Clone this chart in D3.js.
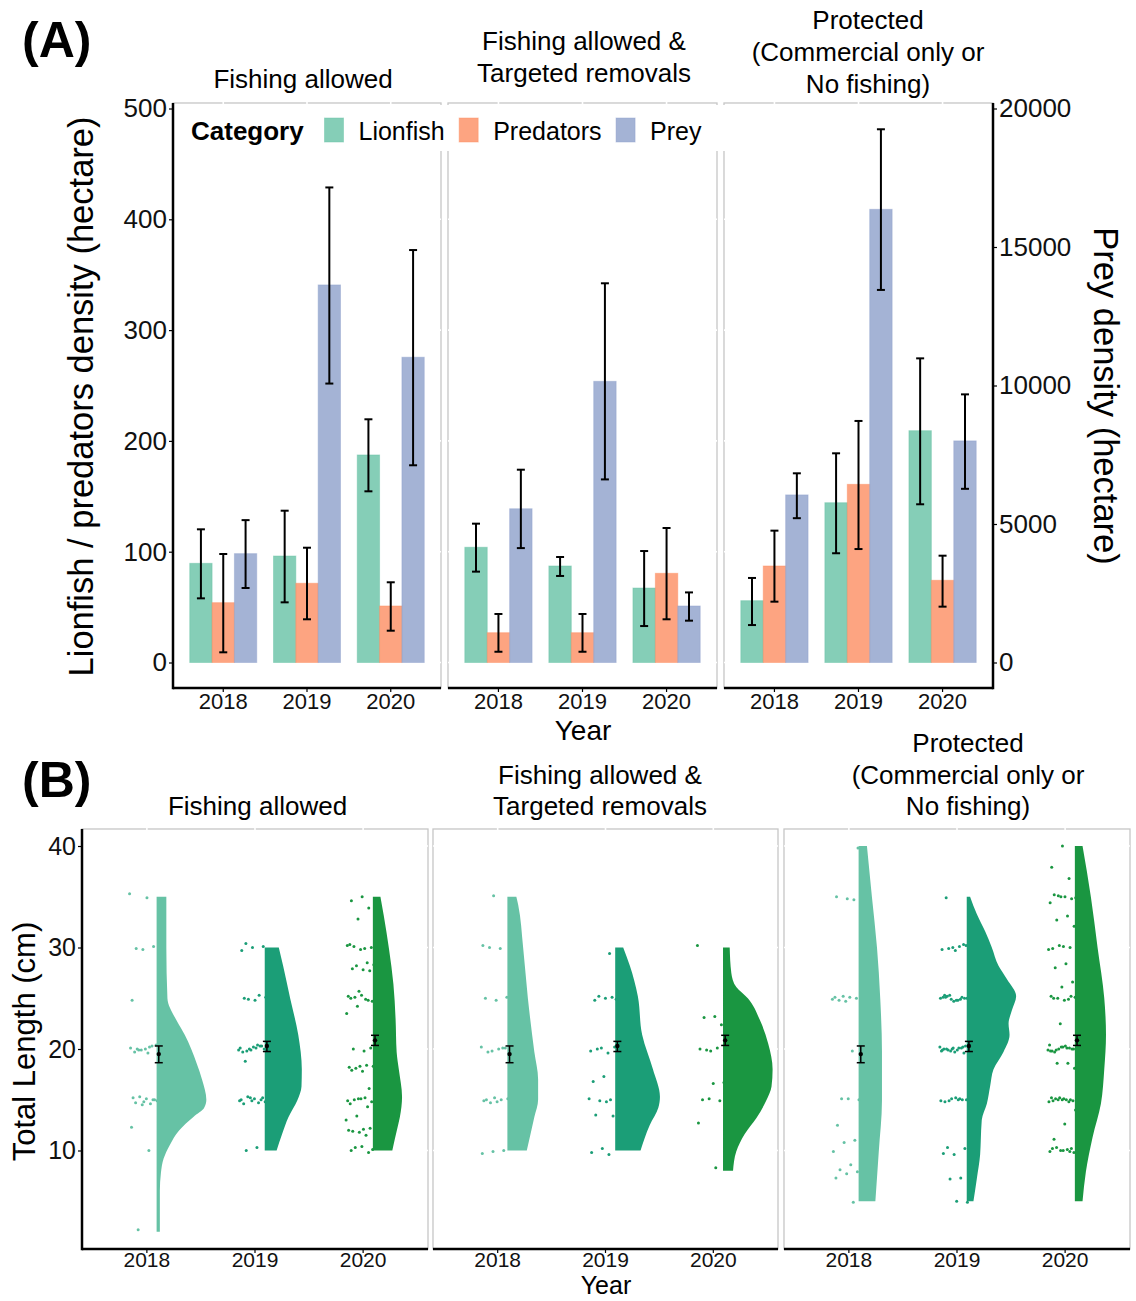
<!DOCTYPE html>
<html>
<head>
<meta charset="utf-8">
<script src="https://cdn.jsdelivr.net/npm/d3@7"></script>
<style>
  html, body { margin: 0; padding: 0; background: #fff; }
  svg { display: block; font-family: "Liberation Sans", Arial, Helvetica, sans-serif; }
</style>
</head>
<body>
<svg id="fig" width="1136" height="1301"></svg>
<script>
// ---------------- data ----------------
const years = ["2018", "2019", "2020"];
const zoneLabels = [
  ["Fishing allowed"],
  ["Fishing allowed &", "Targeted removals"],
  ["Protected", "(Commercial only or", "No fishing)"]
];
const categories = ["Lionfish", "Predators", "Prey"];
const categoryColors = ["#66c2a5", "#fc8d62", "#8da0cb"];

// (A) densities per hectare, indexed [zone][year]
const lionfishMean  = [[89.5, 96.1, 187.3], [104.0, 87.1, 67.2], [55.8, 144.2, 209.2]];
const lionfishLower = [[57.9, 54.3, 154.5], [82.0, 78.1, 32.9], [33.8, 98.6, 142.8]];
const lionfishUpper = [[120.2, 137.0, 219.5], [125.3, 95.2, 100.6], [76.3, 188.8, 274.5]];

const predatorsMean  = [[54.0, 71.5, 51.0], [26.9, 26.9, 80.5], [87.1, 160.8, 74.2]];
const predatorsLower = [[9.2, 39.0, 28.7], [9.7, 9.7, 39.0], [54.9, 102.4, 50.4]];
const predatorsUpper = [[97.9, 103.6, 72.4], [43.8, 43.8, 121.4], [119.0, 218.0, 96.4]];

// prey density is read on the secondary axis
const preyMean  = [[3930, 13630, 11020], [5550, 10150, 2040], [6050, 16360, 8000]];
const preyLower = [[2690, 10070, 7120], [4130, 6610, 1510], [5210, 13450, 6270]];
const preyUpper = [[5140, 17150, 14890], [6960, 13690, 2530], [6830, 19250, 9680]];

const leftTicks = [0, 100, 200, 300, 400, 500];
const rightTicks = [0, 5000, 10000, 15000, 20000];

// (B) lionfish total length (cm)
const yearColors = ["#66c2a5", "#1b9e77", "#1a9641"];
const lengthMean  = [19.5, 20.3, 20.85];
const lengthLower = [18.65, 19.75, 20.35];
const lengthUpper = [20.3, 20.75, 21.35];
const lengthTicks = [10, 20, 30, 40];

// scaled kernel density of length, [length, density], indexed [zone][year]
const lengthDensity = [
  [
    [[2, 3], [6, 3], [7.8, 4], [9.2, 6.5], [10.5, 12], [12, 21], [13.3, 34], [14.2, 44], [15, 46], [17, 42], [18.6, 37], [20, 32], [21.4, 26], [22.7, 19], [25, 10], [30, 9], [35, 9]],
    [[10, 11], [11.6, 16], [13.3, 22], [14.9, 30], [16.3, 34], [18, 34.3], [21.4, 31], [25, 23.5], [28.2, 17], [30, 13]],
    [[10, 18], [10.5, 19], [11.9, 22], [13.3, 25], [15.3, 27], [18, 24], [19.7, 22], [23, 21], [26.4, 19], [29.8, 15], [33.2, 10], [35, 7]]
  ],
  [
    [[10, 18], [13.3, 25], [15, 28.5], [17, 28.5], [19.7, 25], [25, 19], [30, 14.6], [34.2, 10], [35, 8.3]],
    [[10, 23.5], [12.5, 32], [14.2, 40], [15.3, 41.5], [18, 35], [21.4, 25], [25.2, 21], [28.2, 13.6], [30, 7.4]],
    [[8, 9.3], [9.9, 12.3], [11.6, 20], [13.2, 31], [14.9, 40], [16.3, 45], [18, 46], [20.5, 42], [22.9, 34], [25, 23], [26.1, 12.3], [27.5, 7.7], [30, 6.2]]
  ],
  [
    [[5, 15.5], [9.8, 18.6], [14.9, 21.6], [19.7, 21.6], [25, 20], [30, 17], [35, 12.3], [40, 7.7]],
    [[5, 6.2], [7.2, 9.3], [9.6, 12.4], [11, 13], [13, 13.9], [14.6, 18.6], [16.3, 21.6], [18, 24.8], [19.7, 34], [21.4, 39.6], [22.5, 38.7], [23.8, 41.7], [25.2, 45.7], [26.9, 37.1], [28.2, 29.4], [30, 23.2], [31.6, 17], [33.3, 9.3], [35, 3.1]],
    [[5, 7.1], [7.9, 10.2], [11.3, 16.4], [14.6, 24.1], [18, 27.2], [21.4, 28.8], [25, 27.2], [30, 21], [35, 14.8], [40, 7.1]]
  ]
];

// individual fish lengths (cm), indexed [zone][year]
const fishLengths = [
  [
    [35.3, 34.9, 29.9, 30.1, 29.8, 24.8, 20.2, 19.9, 20.4, 20.0, 19.7, 20.3, 19.9, 20.1, 19.6, 20.0, 15.0, 14.8, 15.2, 14.6, 15.3, 14.9, 15.1, 14.7, 15.0, 14.5, 12.3, 10.0, 2.2],
    [30.4, 30.1, 30.0, 29.7, 25.3, 24.9, 25.1, 24.8, 25.0, 20.3, 19.9, 20.1, 20.4, 19.8, 20.0, 20.2, 19.7, 20.3, 20.0, 19.9, 20.1, 18.8, 15.2, 14.9, 15.0, 14.7, 15.3, 14.8, 15.1, 14.6, 15.0, 15.2, 14.9, 10.3, 10.0],
    [35.0, 34.6, 33.9, 32.8, 30.2, 29.9, 30.1, 30.0, 29.8, 30.3, 28.5, 28.2, 28.3, 27.8, 27.9, 27.7, 25.7, 25.2, 24.9, 25.1, 24.7, 25.3, 25.0, 24.8, 24.2, 23.5, 19.8, 20.0, 20.1, 18.3, 18.2, 18.4, 18.1, 18.3, 17.8, 17.9, 16.1, 15.1, 14.9, 15.2, 15.0, 14.8, 15.1, 14.6, 14.3, 13.4, 13.0, 12.1, 11.9, 12.2, 11.8, 12.0, 11.5, 10.3, 10.1, 10.4, 10.0, 9.8]
  ],
  [
    [35.1, 30.2, 29.9, 30.0, 25.1, 24.8, 25.0, 20.1, 19.8, 20.2, 20.0, 19.7, 20.1, 15.2, 14.9, 15.0, 14.7, 15.1, 14.8, 15.0, 10.0, 9.9, 9.7],
    [29.4, 25.2, 24.9, 25.0, 24.8, 25.1, 20.1, 19.8, 19.6, 20.0, 20.2, 17.3, 16.8, 15.0, 14.9, 15.1, 14.8, 13.5, 13.4, 10.2, 9.8, 9.6],
    [30.2, 23.2, 23.1, 22.4, 19.8, 20.0, 20.1, 19.9, 16.7, 16.6, 15.0, 14.9, 15.1, 12.7, 8.3]
  ],
  [
    [39.8, 34.8, 35.0, 34.7, 25.2, 24.9, 25.1, 24.8, 25.0, 24.7, 25.1, 19.8, 15.1, 15.0, 15.1, 12.5, 11.0, 10.8, 9.9, 8.6, 8.1, 7.9, 7.7, 7.3, 4.9],
    [34.9, 30.3, 30.0, 29.8, 30.1, 29.9, 30.2, 29.7, 25.3, 25.1, 24.9, 25.0, 24.8, 25.2, 25.0, 24.7, 25.1, 24.9, 25.3, 25.0, 24.8, 25.1, 20.2, 20.0, 19.8, 20.1, 19.9, 20.3, 19.7, 20.0, 20.1, 19.8, 20.2, 19.9, 20.0, 19.6, 20.1, 19.9, 15.1, 14.9, 15.0, 15.2, 14.8, 15.0, 15.1, 14.9, 15.0, 10.3, 10.2, 9.6, 9.7, 7.3, 7.2, 4.9, 5.0],
    [40.0, 37.9, 36.8, 35.1, 34.9, 35.0, 35.2, 34.8, 35.0, 34.4, 33.1, 32.7, 32.1, 30.1, 29.9, 30.0, 30.2, 29.8, 28.4, 28.0, 26.6, 26.1, 25.2, 24.9, 25.0, 25.1, 24.8, 25.0, 25.2, 22.5, 20.4, 20.1, 19.9, 20.0, 20.2, 19.8, 20.1, 20.0, 19.9, 20.3, 19.7, 20.0, 20.2, 19.8, 18.6, 18.6, 18.1, 15.1, 14.9, 15.0, 15.2, 14.8, 15.0, 15.1, 14.9, 15.0, 15.2, 14.8, 15.0, 14.0, 12.6, 11.1, 10.2, 10.0, 9.9, 10.1, 10.3, 9.8, 10.0, 10.2, 9.9]
  ]
];

// ---------------- drawing ----------------
const svg = d3.select("#fig");
const BORDER = "#c6c6c6";
const TICK_TEXT = "#111";

function label(g, x, y, s, size, anchor = "middle", weight = "normal") {
  return g.append("text")
    .attr("x", x).attr("y", y)
    .attr("font-size", size)
    .attr("font-weight", weight)
    .attr("text-anchor", anchor)
    .attr("fill", "#000")
    .text(s);
}

function styleAxis(g, size) {
  g.select(".domain").remove();
  g.selectAll(".tick line").attr("stroke", "#000").attr("stroke-width", 1.2);
  g.selectAll(".tick text").attr("font-size", size).attr("fill", TICK_TEXT)
    .attr("font-family", '"Liberation Sans", Arial, sans-serif');
}

// ===== Panel (A): densities =====
const gA = svg.append("g");
const aTop = 103, aBottom = 688;
const aPanels = [[173, 441], [448, 717], [724, 993]];
const yL = d3.scaleLinear().domain([0, 500]).range([662.5, 108.5]);
const yR = d3.scaleLinear().domain([0, 20000]).range([662.5, 108.5]);

const seriesMean  = [lionfishMean, predatorsMean, preyMean];
const seriesLower = [lionfishLower, predatorsLower, preyLower];
const seriesUpper = [lionfishUpper, predatorsUpper, preyUpper];
const yFor = c => (c === 2 ? yR : yL);

aPanels.forEach((range, z) => {
  const x = d3.scaleBand().domain(years).range(range).paddingInner(0.2).paddingOuter(0.2);
  const xc = d3.scaleBand().domain(categories).range([0, x.bandwidth()]);
  const pg = gA.append("g");

  pg.append("rect")
    .attr("x", range[0]).attr("y", aTop)
    .attr("width", range[1] - range[0]).attr("height", aBottom - aTop)
    .attr("fill", "#fff").attr("stroke", BORDER).attr("stroke-width", 1.3);

  // white grid lines
  pg.selectAll("line.gy").data(leftTicks).join("line")
    .attr("x1", range[0]).attr("x2", range[1])
    .attr("y1", d => yL(d)).attr("y2", d => yL(d))
    .attr("stroke", "#fff").attr("stroke-width", 1.6);
  pg.selectAll("line.gx").data(years).join("line")
    .attr("x1", d => x(d) + x.bandwidth() / 2).attr("x2", d => x(d) + x.bandwidth() / 2)
    .attr("y1", aTop - 1).attr("y2", aBottom)
    .attr("stroke", "#fff").attr("stroke-width", 1.6);

  // bars
  const bars = [];
  years.forEach((yr, i) => categories.forEach((cat, c) => {
    bars.push({ yr, cat, c, mean: seriesMean[c][z][i], lo: seriesLower[c][z][i], hi: seriesUpper[c][z][i] });
  }));
  pg.selectAll("rect.bar").data(bars).join("rect")
    .attr("class", "bar")
    .attr("x", d => x(d.yr) + xc(d.cat))
    .attr("width", xc.bandwidth())
    .attr("y", d => yFor(d.c)(d.mean))
    .attr("height", d => yFor(d.c)(0) - yFor(d.c)(d.mean))
    .attr("fill", d => categoryColors[d.c]).attr("fill-opacity", 0.8)
    .attr("stroke", d => categoryColors[d.c]).attr("stroke-opacity", 0.45).attr("stroke-width", 1);

  // error bars
  const eb = pg.selectAll("g.eb").data(bars).join("g")
    .attr("transform", d => `translate(${x(d.yr) + xc(d.cat) + xc.bandwidth() / 2},0)`);
  eb.append("line").attr("x1", 0).attr("x2", 0)
    .attr("y1", d => yFor(d.c)(d.lo)).attr("y2", d => yFor(d.c)(d.hi))
    .attr("stroke", "#000").attr("stroke-width", 2);
  eb.append("line").attr("x1", -4).attr("x2", 4)
    .attr("y1", d => yFor(d.c)(d.lo)).attr("y2", d => yFor(d.c)(d.lo))
    .attr("stroke", "#000").attr("stroke-width", 2);
  eb.append("line").attr("x1", -4).attr("x2", 4)
    .attr("y1", d => yFor(d.c)(d.hi)).attr("y2", d => yFor(d.c)(d.hi))
    .attr("stroke", "#000").attr("stroke-width", 2);

  // bottom axis
  const ax = pg.append("g").attr("transform", `translate(0,${aBottom})`)
    .call(d3.axisBottom(x).tickSize(4).tickSizeOuter(0));
  styleAxis(ax, 22);
  ax.selectAll(".tick text").attr("dy", "0.71em").attr("y", 5);
  pg.append("line").attr("x1", range[0]).attr("x2", range[1])
    .attr("y1", aBottom).attr("y2", aBottom)
    .attr("stroke", "#000").attr("stroke-width", 2.5);

  // facet label
  const cxA = [303, 584, 868][z];
  const baseA = [[88], [50, 82], [29, 61, 93]][z];
  zoneLabels[z].forEach((s, k) => label(gA, cxA, baseA[k], s, 26));
});

// left and right axes
const axL = gA.append("g").attr("transform", `translate(${aPanels[0][0]},0)`)
  .call(d3.axisLeft(yL).tickValues(leftTicks).tickSize(4).tickPadding(2));
styleAxis(axL, 26);
gA.append("line").attr("x1", 173).attr("x2", 173).attr("y1", aTop).attr("y2", aBottom + 1.2)
  .attr("stroke", "#000").attr("stroke-width", 2.5);

const axR = gA.append("g").attr("transform", `translate(${aPanels[2][1]},0)`)
  .call(d3.axisRight(yR).tickValues(rightTicks).tickFormat(d3.format("d")).tickSize(4).tickPadding(2));
styleAxis(axR, 26);
gA.append("line").attr("x1", 993).attr("x2", 993).attr("y1", aTop).attr("y2", aBottom + 1.2)
  .attr("stroke", "#000").attr("stroke-width", 2.5);

// legend
const leg = gA.append("g");
leg.append("rect").attr("x", 176).attr("y", 105).attr("width", 552).attr("height", 46).attr("fill", "#fff");
label(leg, 191, 140, "Category", 26, "start", "bold");
let lx = 324.5;
categories.forEach((cat, c) => {
  leg.append("rect").attr("x", lx).attr("y", 118).attr("width", 19).attr("height", 24)
    .attr("fill", categoryColors[c]).attr("fill-opacity", 0.8)
    .attr("stroke", categoryColors[c]).attr("stroke-opacity", 0.45);
  const t = label(leg, lx + 34, 140, cat, 25, "start");
  lx = lx + 34 + t.node().getComputedTextLength() + 14.5;
});

// titles
label(gA, 22, 57, "(A)", 50, "start", "bold");
label(gA, 583, 740, "Year", 28);
gA.append("text").attr("transform", "translate(93,396.5) rotate(-90)")
  .attr("text-anchor", "middle").attr("font-size", 34.5).attr("fill", "#000")
  .text("Lionfish / predators density (hectare)");
gA.append("text").attr("transform", "translate(1094,396) rotate(90)")
  .attr("text-anchor", "middle").attr("font-size", 34.5).attr("fill", "#000")
  .text("Prey density (hectare)");

// ===== Panel (B): total length =====
const gB = svg.append("g");
const bTop = 829, bBottom = 1249;
const bPanels = [[82, 428], [433, 778], [784, 1130]];
const yB = d3.scaleLinear().domain([0, 40]).range([1252, 846]);

bPanels.forEach((range, z) => {
  const x = d3.scaleBand().domain(years).range(range).paddingInner(0.2).paddingOuter(0.2);
  const step = x.step();
  const center = yr => x(yr) + x.bandwidth() / 2;
  const wScale = d3.scaleLinear().domain([0, 100]).range([0, step]);
  const pg = gB.append("g");

  pg.append("rect")
    .attr("x", range[0]).attr("y", bTop)
    .attr("width", range[1] - range[0]).attr("height", bBottom - bTop)
    .attr("fill", "#fff").attr("stroke", BORDER).attr("stroke-width", 1.3);
  pg.selectAll("line.gy").data(lengthTicks).join("line")
    .attr("x1", range[0]).attr("x2", range[1])
    .attr("y1", d => yB(d)).attr("y2", d => yB(d))
    .attr("stroke", "#fff").attr("stroke-width", 1.6);
  pg.selectAll("line.gx").data(years).join("line")
    .attr("x1", center).attr("x2", center)
    .attr("y1", bTop - 1).attr("y2", bBottom)
    .attr("stroke", "#fff").attr("stroke-width", 1.6);

  years.forEach((yr, i) => {
    const x0 = center(yr) + 0.09 * step;
    const area = d3.area()
      .y(d => yB(d[0]))
      .x0(x0)
      .x1(d => x0 + wScale(d[1]))
      .curve(d3.curveMonotoneY);
    pg.append("path").datum(lengthDensity[z][i])
      .attr("d", area).attr("fill", yearColors[i]);

    // jittered fish (deterministic spread across the strip)
    const pts = fishLengths[z][i];
    pg.selectAll(null).data(pts).join("circle")
      .attr("cx", (d, k) => center(yr) + (-0.16 + 0.26 * ((k * 0.6180339 + i * 0.29 + z * 0.47) % 1)) * step)
      .attr("cy", d => yB(d))
      .attr("r", 1.5)
      .attr("fill", yearColors[i]);

    // mean +/- SE
    const ex = center(yr) + 0.11 * step;
    pg.append("line").attr("x1", ex).attr("x2", ex)
      .attr("y1", yB(lengthLower[i])).attr("y2", yB(lengthUpper[i]))
      .attr("stroke", "#000").attr("stroke-width", 1.5);
    [lengthLower[i], lengthUpper[i]].forEach(v => {
      pg.append("line").attr("x1", ex - 4).attr("x2", ex + 4)
        .attr("y1", yB(v)).attr("y2", yB(v))
        .attr("stroke", "#000").attr("stroke-width", 1.5);
    });
    pg.append("circle").attr("cx", ex).attr("cy", yB(lengthMean[i])).attr("r", 2.2).attr("fill", "#000");
  });

  const ax = pg.append("g").attr("transform", `translate(0,${bBottom})`)
    .call(d3.axisBottom(x).tickSize(4).tickSizeOuter(0));
  styleAxis(ax, 21);
  ax.selectAll(".tick text").attr("dy", "0.71em").attr("y", 3);
  pg.append("line").attr("x1", range[0]).attr("x2", range[1])
    .attr("y1", bBottom).attr("y2", bBottom)
    .attr("stroke", "#000").attr("stroke-width", 2.5);

  const cxB = [257.5, 600, 968][z];
  const baseB = [[815], [784, 815], [752, 783.5, 815]][z];
  zoneLabels[z].forEach((s, k) => label(gB, cxB, baseB[k], s, 26));
});

const axB = gB.append("g").attr("transform", `translate(${bPanels[0][0]},0)`)
  .call(d3.axisLeft(yB).tickValues(lengthTicks).tickSize(4).tickPadding(2));
styleAxis(axB, 25);
gB.append("line").attr("x1", 82).attr("x2", 82).attr("y1", bTop).attr("y2", bBottom + 1.2)
  .attr("stroke", "#000").attr("stroke-width", 2.5);

label(gB, 22, 796.5, "(B)", 50, "start", "bold");
label(gB, 606, 1294, "Year", 25);
gB.append("text").attr("transform", "translate(35,1041.5) rotate(-90)")
  .attr("text-anchor", "middle").attr("font-size", 31).attr("fill", "#000")
  .text("Total Length (cm)");
</script>
</body>
</html>
